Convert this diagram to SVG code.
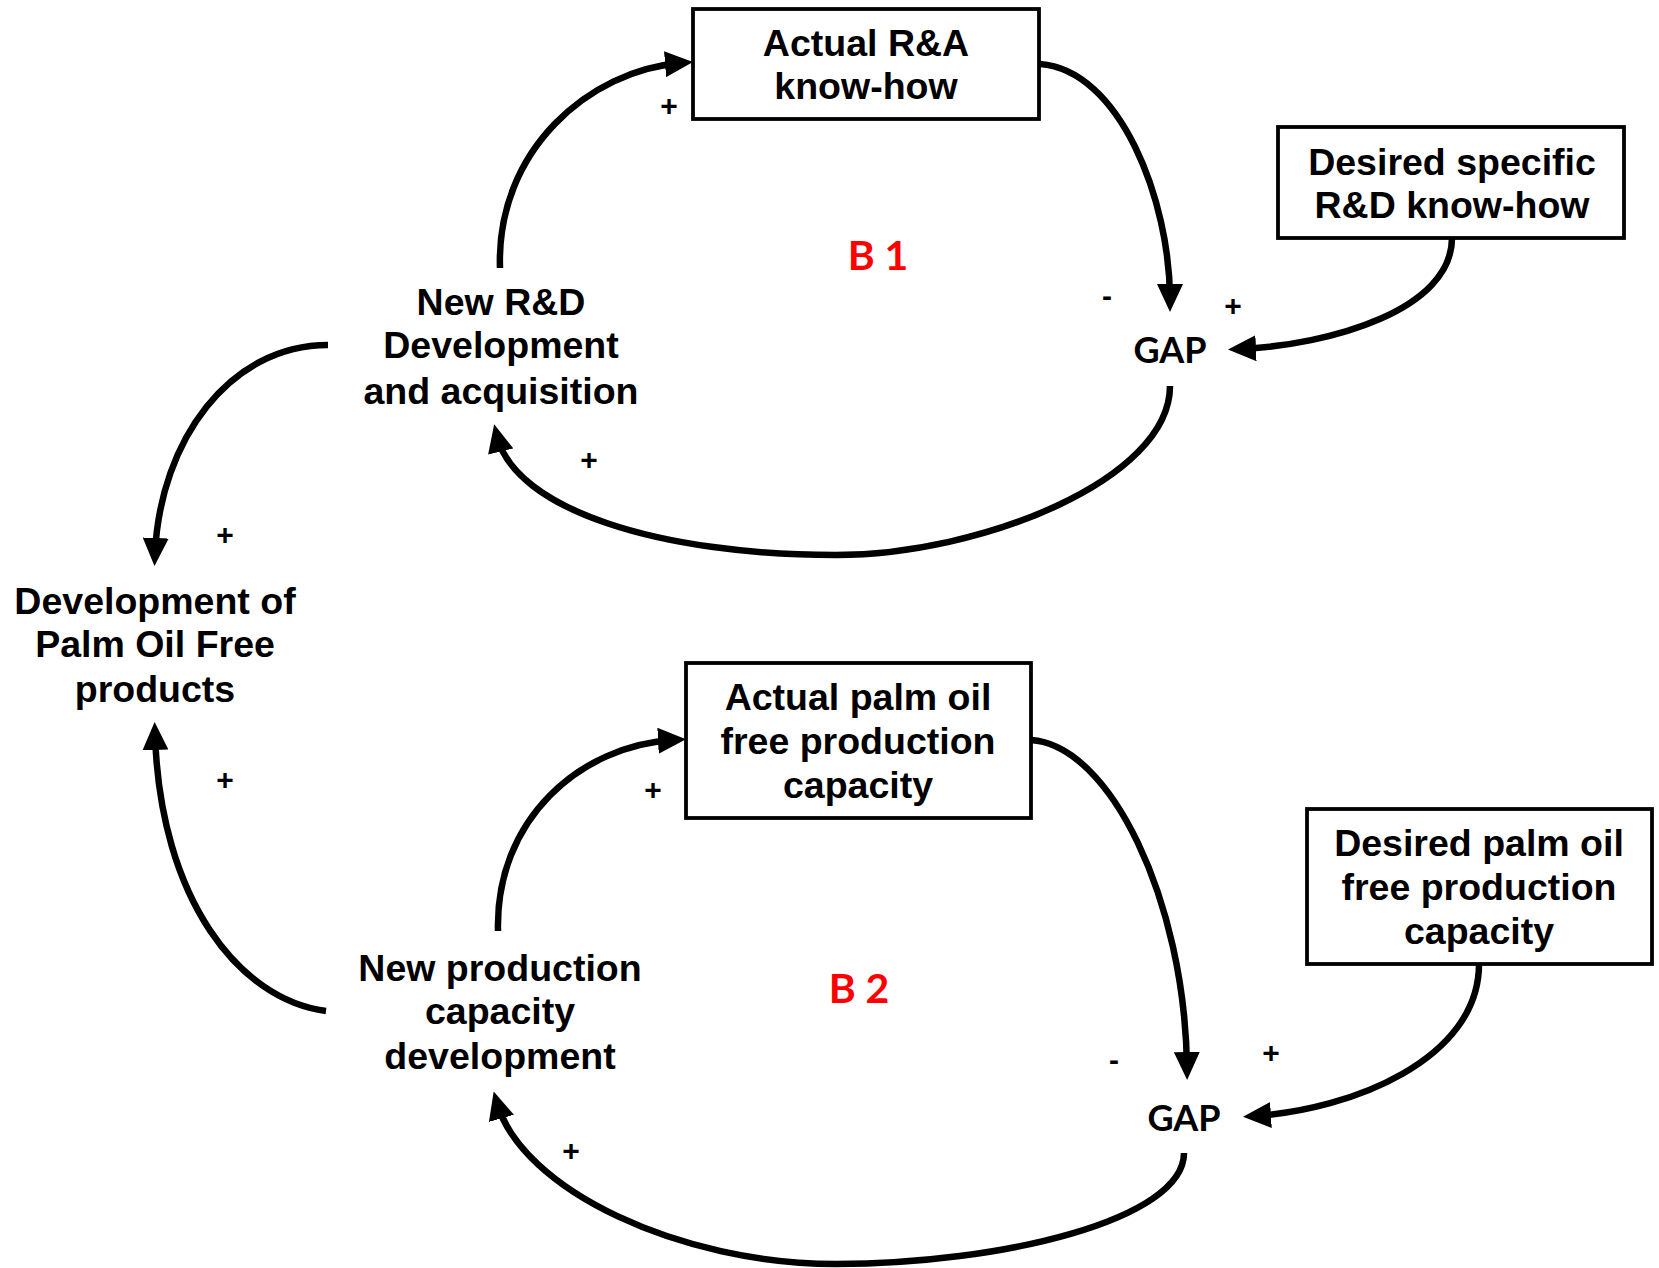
<svg xmlns="http://www.w3.org/2000/svg" width="1659" height="1268" viewBox="0 0 1659 1268">
<style>
.t{font-family:"Liberation Sans",Arial,sans-serif;font-weight:bold;font-size:37.5px;fill:#000;text-anchor:middle}
.g{font-family:Lato,"Open Sans",sans-serif;font-weight:bold;font-size:36px;fill:#000;text-anchor:middle}
.b{font-family:Lato,"Open Sans",sans-serif;font-weight:bold;font-size:41px;fill:#ff0000;text-anchor:middle}
.s{font-family:"Liberation Sans",Arial,sans-serif;font-weight:bold;font-size:30px;fill:#000;text-anchor:middle}
.box{fill:#fff;stroke:#000;stroke-width:3.8}
.c{fill:none;stroke:#000;stroke-width:6.5;marker-end:url(#ah)}
</style>
<defs>
<marker id="ah" markerUnits="userSpaceOnUse" markerWidth="28" markerHeight="26" refX="16" refY="13" orient="auto">
<path d="M0,0 L28,13 L0,26 z" fill="#000"/>
</marker>
</defs>
<rect width="1659" height="1268" fill="#fff"/>
<g id="connectors">
<path class="c" d="M500,268 C496,150 590,70 681,63"/>
<path class="c" d="M1040,64 C1120,70 1170,200 1170,300"/>
<path class="c" d="M1452,238 C1452,310 1330,345 1240,349"/>
<path class="c" d="M1170,386 C1170,480 980,555 836,555 C660,555 515,510 497,436"/>
<path class="c" d="M328,345 C230,345 160,440 155,554"/>
<path class="c" d="M326,1011 C240,1000 160,900 155,734"/>
<path class="c" d="M498,931 C495,820 580,745 674,740"/>
<path class="c" d="M1031,740 C1110,745 1185,900 1187,1068"/>
<path class="c" d="M1479,964 C1479,1060 1350,1110 1255,1116"/>
<path class="c" d="M1184,1153 C1184,1220 1000,1264 836,1264 C680,1264 522,1190 497,1103"/>
</g>
<g id="actual-ra">
<rect class="box" x="693" y="9" width="346" height="110"/>
<text class="t" x="866" y="56">Actual R&amp;A</text>
<text class="t" x="866" y="99">know-how</text>
</g>
<g id="desired-rd">
<rect class="box" x="1278" y="127" width="346" height="111"/>
<text class="t" x="1452" y="175">Desired specific</text>
<text class="t" x="1452" y="218">R&amp;D know-how</text>
</g>
<g id="gap1"><text class="g" x="1170" y="363">GAP</text></g>
<g id="new-rd">
<text class="t" x="501" y="315">New R&amp;D</text>
<text class="t" x="501" y="358">Development</text>
<text class="t" x="501" y="404">and acquisition</text>
</g>
<g id="dev-pof">
<text class="t" x="155" y="614">Development of</text>
<text class="t" x="155" y="657">Palm Oil Free</text>
<text class="t" x="155" y="702">products</text>
</g>
<g id="actual-pof">
<rect class="box" x="686" y="663" width="345" height="155"/>
<text class="t" x="858" y="710">Actual palm oil</text>
<text class="t" x="858" y="754">free production</text>
<text class="t" x="858" y="798">capacity</text>
</g>
<g id="desired-pof">
<rect class="box" x="1307" y="809" width="345" height="155"/>
<text class="t" x="1479" y="856">Desired palm oil</text>
<text class="t" x="1479" y="900">free production</text>
<text class="t" x="1479" y="944">capacity</text>
</g>
<g id="gap2"><text class="g" x="1184" y="1131">GAP</text></g>
<g id="new-prod">
<text class="t" x="500" y="981">New production</text>
<text class="t" x="500" y="1024">capacity</text>
<text class="t" x="500" y="1069">development</text>
</g>
<g id="labels">
<text class="b" x="878" y="270">B 1</text>
<text class="b" x="859" y="1003">B 2</text>
<text class="s" x="669" y="116">+</text>
<text class="s" x="1107" y="306">-</text>
<text class="s" x="1233" y="316">+</text>
<text class="s" x="589" y="470">+</text>
<text class="s" x="225" y="545">+</text>
<text class="s" x="225" y="790">+</text>
<text class="s" x="653" y="800">+</text>
<text class="s" x="1114" y="1070">-</text>
<text class="s" x="1271" y="1063">+</text>
<text class="s" x="571" y="1161">+</text>
</g>
</svg>
